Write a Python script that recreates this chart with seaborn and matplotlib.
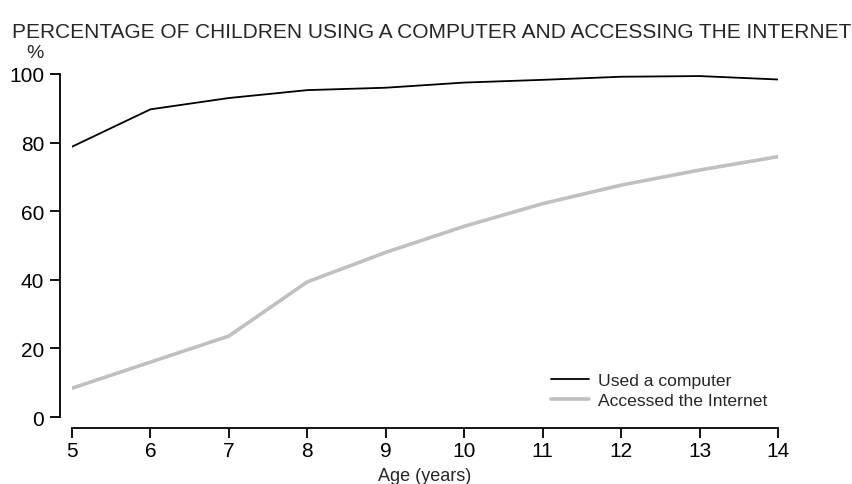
import pandas as pd
import seaborn as sns
import matplotlib
matplotlib.use('Agg')
import matplotlib.pyplot as plt

# Dados
ages = [5, 6, 7, 8, 9, 10, 11, 12, 13, 14]
used_computer = [78.8, 89.7, 93.0, 95.3, 96.0, 97.5, 98.3, 99.2, 99.4, 98.4]
accessed_internet = [8.4, 16.0, 23.6, 39.4, 48.0, 55.6, 62.2, 67.6, 72.0, 75.9]
y_ticks = [0, 20, 40, 60, 80, 100]

df = pd.DataFrame({'age': ages, 'computer': used_computer, 'internet': accessed_internet})

sns.set_style('ticks')
plt.rcParams['font.family'] = ['Liberation Sans', 'DejaVu Sans']

fig = plt.figure(figsize=(8.52, 4.85), dpi=100)
ax = fig.add_axes([72 / 852, 1 - 418 / 485, (778 - 72) / 852, (418 - 75) / 485])

sns.lineplot(data=df, x='age', y='computer', ax=ax, color='black', linewidth=1.3,
             label='Used a computer')
sns.lineplot(data=df, x='age', y='internet', ax=ax, color='#c0c0c0', linewidth=2.6,
             label='Accessed the Internet')

ax.set_xlim(5, 14)
ax.set_ylim(0, 100)
ax.set_xticks(ages)
ax.set_yticks(y_ticks)
ax.tick_params(labelsize=15, length=7, width=1.3, colors='black', pad=2)
ax.tick_params(axis='y', pad=4)
for s in ax.spines.values():
    s.set_linewidth(1.3)
    s.set_color('black')
sns.despine(ax=ax, offset={'left': 9, 'bottom': 8})

ax.set_xlabel('Age (years)', fontsize=13, labelpad=5)
ax.set_ylabel('')

fig.text(12 / 852, 1 - 33 / 485, 'PERCENTAGE OF CHILDREN USING A COMPUTER AND ACCESSING THE INTERNET',
         fontsize=15, va='center', ha='left')
fig.text(35 / 852, 1 - 53 / 485, '%', fontsize=14, va='center', ha='center')

leg = ax.legend(loc='lower right', bbox_to_anchor=(0.997, 0.0), frameon=False,
                fontsize=12.6, handlelength=2.2, handletextpad=0.5, labelspacing=0.3,
                borderpad=0)

fig.savefig('out.png', dpi=100)
